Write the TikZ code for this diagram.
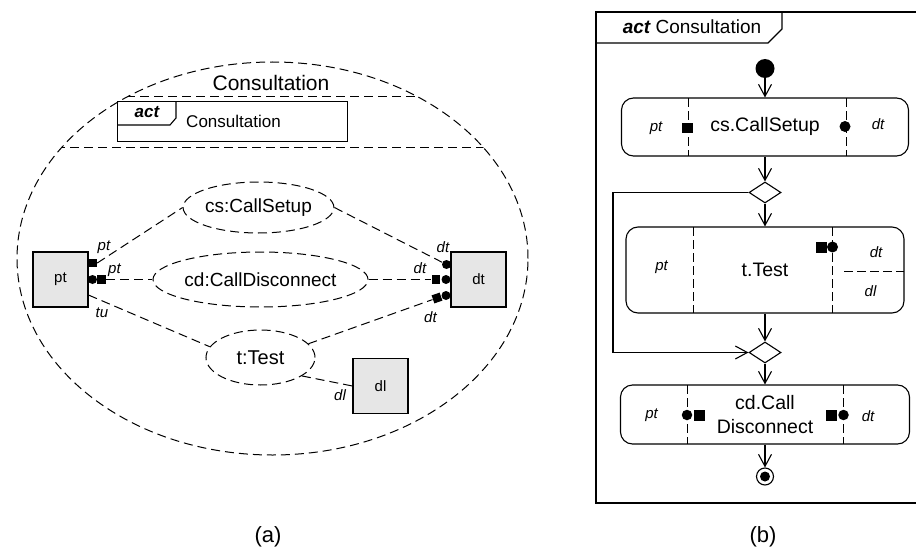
\documentclass[tikz,border=0pt]{standalone}
\usepackage{fontspec}
\setmainfont{Liberation Sans}
\usetikzlibrary{shapes.geometric,arrows.meta,calc}
\definecolor{boxgray}{HTML}{E6E6E6}
\newcommand{\txtsz}[1]{\fontsize{#1}{#1}\selectfont}

\begin{document}
\begin{tikzpicture}[x=1pt,y=-1pt,line width=1pt,
  adsh/.style={dash pattern=on 9pt off 5pt},
  bdsh/.style={dash pattern=on 9pt off 4pt},
  partell/.style={draw,adsh,ellipse,inner sep=0pt,font=\txtsz{19}},
  blockbox/.style={draw,line width=1.2pt,fill=boxgray,minimum size=55pt,inner sep=0pt,font=\txtsz{15}},
  sqport/.style={fill=black,minimum size=8.5pt,inner sep=0pt},
  ciport/.style={circle,fill=black,minimum size=9pt,inner sep=0pt},
  bsq/.style={fill=black,minimum size=11pt,inner sep=0pt},
  bci/.style={circle,fill=black,minimum size=11pt,inner sep=0pt},
  lbl/.style={font=\txtsz{15}\itshape,inner sep=0pt},
  actbox/.style={draw,line width=1.1pt,rounded corners=12pt,inner sep=0pt,font=\txtsz{19.5}},
  flowarrow/.style={line width=1.1pt,-{Straight Barb[length=12pt,width=13pt]}},
  decide/.style={draw,line width=1.1pt,diamond,minimum width=32pt,minimum height=21pt,inner sep=0pt},
]
\useasboundingbox (0,0) rectangle (916,551);

% ---------------- (a) composite structure ----------------
\node[draw,adsh,ellipse,minimum width=511pt,minimum height=393pt,inner sep=0pt] (scopeell) at (272.5,258.5) {};
\begin{scope}
  \clip (272.5,258.5) ellipse [x radius=255.5, y radius=196.5];
  \draw[adsh] (0,96) -- (540,96);
  \draw[adsh] (0,147) -- (540,147);
\end{scope}
\node[font=\txtsz{21},inner sep=0pt] (title) at (271,83) {Consultation};

% act frame inside the compartment
\node[draw,line width=1.1pt,minimum width=230pt,minimum height=40pt,inner sep=0pt,anchor=north west] (actframe) at (117,101) {};
\draw[line width=1.1pt] (actframe.north west) ++(0,24) -- ++(53,0) -- ++(6,-7) -- ++(0,-17);
\node[font=\txtsz{17}\bfseries\itshape,inner sep=0pt] (acttag) at (147,112) {act};
\node[font=\txtsz{17},inner sep=0pt] (actname) at (233.5,121) {Consultation};

% parts
\node[partell,minimum width=143pt,minimum height=51pt] (cs) at (258.5,207.5) {cs:CallSetup};
\node[partell,minimum width=205pt,minimum height=55pt] (cd) at (260.5,279.5) {cd:CallDisconnect};
\node[partell,minimum width=109pt,minimum height=55pt,font=\txtsz{20}] (tt) at (260.5,357.5) {t:Test};

% boundary blocks
\node[blockbox] (ptbox) at (60.5,279.5) {pt};
\node[blockbox] (dtbox) at (478.5,279.5) {dt};
\node[blockbox] (dlbox) at (380.5,386) {dl};

% ports on pt
\node[sqport] (ptA) at (92.5,263) {};
\node[ciport] (ptBc) at (92.5,279.5) {};
\node[sqport] (ptBs) at (101.5,279.5) {};

% ports on dt
\node[ciport] (dtA) at (446.5,264.5) {};
\node[sqport] (dtBs) at (436,279.5) {};
\node[ciport] (dtBc) at (446,279.5) {};
\node[ciport] (dtCc) at (446,295.5) {};
\node[sqport,rotate=19] (dtCs) at (437,298) {};

% connectors
\draw[adsh] (ptA.east) -- (cs.west);
\draw[adsh] (ptBs.east) -- (cd.west);
\draw[adsh] (ptbox.-29) -- (tt.168);
\draw[adsh] (cs.east) -- (dtA);
\draw[adsh] (cd.east) -- (dtBs.west);
\draw[adsh] (tt.16) -- (dtCs);
\draw[adsh] (tt.-24) -- (dlbox.west);

% role labels
\node[lbl] (lptA) at (104,247) {pt};
\node[lbl] (lptB) at (114.5,270) {pt};
\node[lbl] (ltu) at (102,313) {tu};
\node[lbl] (ldtA) at (443,247.5) {dt};
\node[lbl] (ldtB) at (420,268.5) {dt};
\node[lbl] (ldtC) at (430.5,317.5) {dt};
\node[lbl] (ldl) at (340,395) {dl};

\node[font=\txtsz{22},inner sep=0pt] (capa) at (268,537) {(a)};

% ---------------- (b) activity ----------------
\draw[line width=1.1pt] (916,12) -- (596,12) -- (596,503) -- (916,503);
\draw[line width=1.1pt] (596,43) -- (768,43) -- (782,29) -- (782,12);
\node[font=\txtsz{19},inner sep=0pt] (acttitle) at (692,27) {{\bfseries\itshape act} Consultation};

\node[circle,fill=black,minimum size=19pt,inner sep=0pt] (init) at (765,68.5) {};

\node[actbox,minimum width=287pt,minimum height=58pt] (a1) at (765,127) {};
\node[inner sep=0pt,font=\txtsz{19.5}] (a1txt) at (765,126) {cs.CallSetup};
\draw[bdsh] (688,98) -- (688,156);
\draw[bdsh] (846,98) -- (846,156);
\node[lbl] (a1pt) at (656,128.5) {pt};
\node[lbl] (a1dt) at (878,124) {dt};
\node[bsq,minimum size=10.5pt] (a1ps) at (687.5,128) {};
\node[bci] (a1pc) at (845,126.5) {};

\node[decide] (d1) at (765,192.5) {};

\node[actbox,minimum width=278pt,minimum height=86pt] (a2) at (765,270) {};
\node[inner sep=0pt,font=\txtsz{19.5}] (a2txt) at (765,270) {t.Test};
\draw[bdsh] (693,227) -- (693,313);
\draw[bdsh] (832,227) -- (832,313);
\draw[bdsh] (844,271) -- (904,271);
\node[lbl] (a2pt) at (661.5,267) {pt};
\node[lbl] (a2dt) at (876,252) {dt};
\node[lbl] (a2dl) at (870.5,291) {dl};
\node[bsq] (a2ps) at (821.5,247) {};
\node[bci] (a2pc) at (832.5,247) {};

\node[decide] (d2) at (765,352.5) {};

\node[actbox,minimum width=289pt,minimum height=59pt] (a3) at (765,414.5) {};
\node[inner sep=0pt,font=\txtsz{19.5},align=center] (a3txt) at (765,414.5) {cd.Call\\[4pt]Disconnect};
\draw[bdsh] (687,385) -- (687,444);
\draw[bdsh] (843,385) -- (843,444);
\node[lbl] (a3pt) at (651.5,415) {pt};
\node[lbl] (a3dt) at (868,416) {dt};
\node[bci,minimum size=10.5pt] (a3lc) at (687,415) {};
\node[bsq] (a3ls) at (699,415) {};
\node[bsq] (a3rs) at (831.5,415) {};
\node[bci,minimum size=10.5pt] (a3rc) at (843.5,415) {};

\node[circle,draw,line width=1.1pt,minimum size=17pt,inner sep=0pt] (fin) at (765,476.5) {};
\node[circle,fill=black,minimum size=10pt,inner sep=0pt] (findot) at (fin) {};

% control flow
\coordinate (guard) at (613,272);
\draw[flowarrow] (init) -- (a1);
\draw[flowarrow] (a1) -- (d1);
\draw[flowarrow] (d1) -- (a2);
\draw[flowarrow] (a2) -- (d2);
\draw[flowarrow] (d1.west) -| (guard) |- (d2.west);
\draw[flowarrow] (d2) -- (a3);
\draw[flowarrow] (a3) -- (fin);

\node[font=\txtsz{22},inner sep=0pt] (capb) at (763,537) {(b)};
\end{tikzpicture}
\end{document}
